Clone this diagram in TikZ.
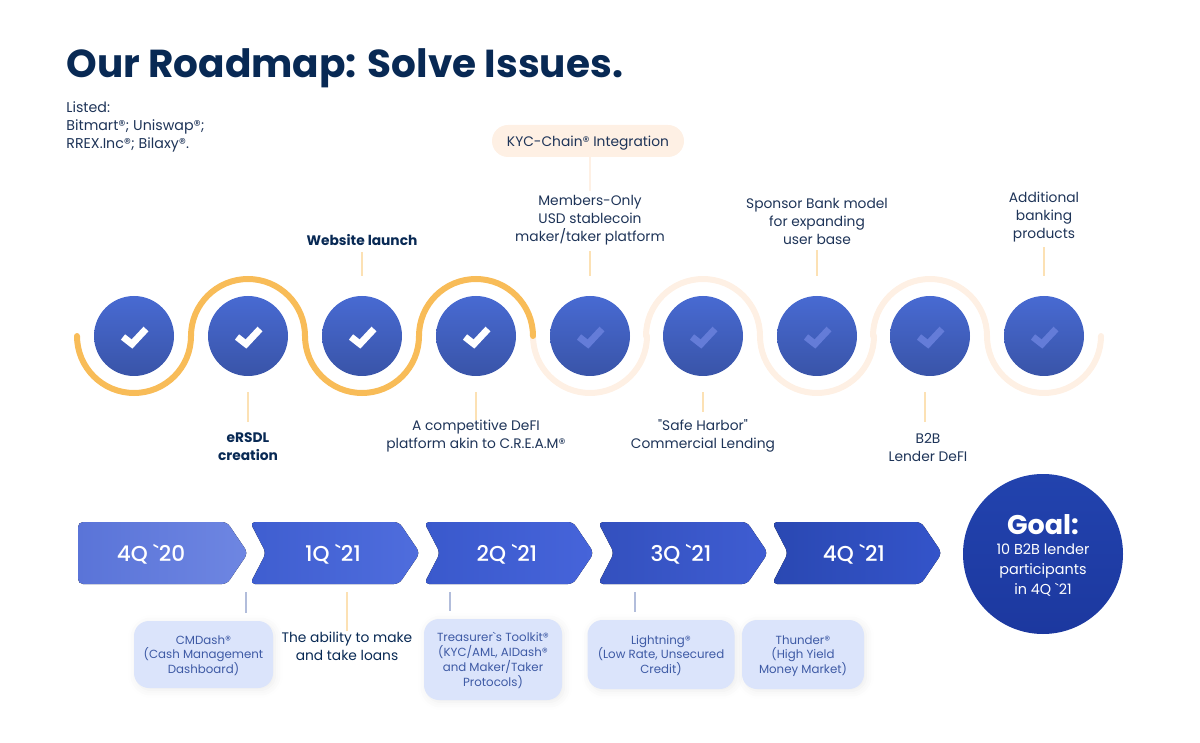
\documentclass[tikz,border=0pt]{standalone}
\usepackage{fontspec}
\setmainfont{Poppins}[Ligatures=TeXOff]
\newfontfamily\popmed{Poppins Medium}[Ligatures=TeXOff]
\usepackage{xcolor}
\usepackage{tikz}
\usetikzlibrary{calc, shadows.blur}
\definecolor{navy}{RGB}{8,41,84}
\definecolor{inktext}{RGB}{30,52,88}
\definecolor{amber}{RGB}{248,188,88}
\definecolor{peach}{RGB}{254,240,228}
\definecolor{boxblue}{RGB}{219,228,251}
\definecolor{boxtext}{RGB}{62,90,165}
\definecolor{discTop}{RGB}{72,106,210}
\definecolor{discBot}{RGB}{57,84,168}
\definecolor{dimcheck}{RGB}{100,124,216}
\definecolor{goalTop}{RGB}{34,67,174}
\definecolor{goalBot}{RGB}{28,56,159}

\begin{document}
\begin{tikzpicture}[
  x=0.5pt, y=0.5pt,
  font=\fontsize{6.9}{9}\selectfont,
  lab/.style={text=inktext, align=center, inner sep=0pt},
  boldlab/.style={lab, text=navy, font=\fontsize{6.9}{9}\selectfont\bfseries},
  listlab/.style={lab, align=left, anchor=north west, font=\fontsize{7.1}{9}\selectfont},
  disc/.style={circle, minimum size=40pt, inner sep=0pt, top color=discTop, bottom color=discBot},
  wave/.style={line width=3pt, line cap=round},
  check/.style={line width=3.4pt},
  upstem/.style={draw=amber!45, line width=0.7pt},
  lowstem/.style={draw=boxtext!40, line width=0.6pt},
  card/.style={rounded corners=7.5pt, fill=boxblue, text=boxtext, align=center, inner sep=0pt,
    font=\fontsize{5.9}{7.4}\selectfont, text depth=0pt,
    blur shadow={shadow xshift=1pt, shadow yshift=-1pt, shadow blur radius=4pt, shadow opacity=8}},
  qlab/.style={text=white, inner sep=0pt, font=\fontsize{10.8}{12}\popmed},
]
  \useasboundingbox (0,0) rectangle (1200,-743);

  % Title
  \node[text=navy, anchor=west, inner sep=0pt, font=\fontsize{19.5}{22}\selectfont\bfseries] (title) at (66,-68) {Our Roadmap: Solve Issues.};
  \node[listlab] (listed) at (66,-101) {Listed:\\Bitmart®; Uniswap®;\\RREX.Inc®; Bilaxy®.};

  % Wave behind the discs
  \foreach \x/\a in {590/360, 703/0, 817/360, 930/0, 1044/360}
    \draw[wave, peach] (\x-57,-336) arc[start angle=180, end angle=\a, radius=57];
  \foreach \x/\a in {134/360, 248/0, 362/360, 476/0}
    \draw[wave, amber] (\x-57,-336) arc[start angle=180, end angle=\a, radius=57];

  % Discs and checks
  \foreach \n/\x in {1/134, 2/248, 3/362, 4/476}{
    \node[disc] (c\n) at (\x,-336) {};
    \draw[check, draw=white, shift={(c\n.center)}] (-11,-1) -- (-2,-8) -- (12,7);
  }
  \foreach \n/\x in {5/590, 6/703, 7/817, 8/930, 9/1044}{
    \node[disc] (c\n) at (\x,-336) {};
    \draw[check, draw=dimcheck, shift={(c\n.center)}] (-11,-1) -- (-2,-8) -- (12,7);
  }

  % Labels over and under the discs
  \node[boldlab] (lab2) at (248,-447) {eRSDL\\creation};
  \node[boldlab] (lab3) at (362,-240) {Website launch};
  \node[lab] (lab4) at (476,-436) {A competitive DeFI\\platform akin to C.R.E.A.M®};
  \node[lab] (lab5) at (590,-220) {Members-Only\\USD stablecoin\\maker/taker platform};
  \node[lab] (lab6) at (703,-436) {"Safe Harbor"\\Commercial Lending};
  \node[lab] (lab7) at (817,-221) {Sponsor Bank model\\for expanding\\user base};
  \node[lab] (lab8) at (928,-447) {B2B\\Lender DeFI};
  \node[lab] (lab9) at (1044,-217) {Additional\\banking\\products};
  \node[lab, fill=peach, rounded corners=8pt, minimum width=96pt, minimum height=16pt, text depth=0pt] (kyc) at (588,-141) {KYC-Chain® Integration};

  % Stems
  \foreach \n/\x/\y in {3/362/252, 5/590/251, 7/817/250, 9/1044/247}{
    \coordinate (s\n) at (\x,-\y);
    \draw[upstem, shorten >=10pt] (s\n) -- (s\n |- c\n.north);
  }
  \foreach \n/\x/\y in {2/248/422, 4/476/420, 6/703/412, 8/925/422}{
    \coordinate (s\n) at (\x,-\y);
    \draw[upstem, shorten >=8pt] (s\n) -- (s\n |- c\n.south);
  }
  \draw[draw=peach, line width=1pt, shorten >=2pt] (kyc.south -| lab5) -- (lab5.north);

  % Quarter arrows
  \foreach \n/\x/\nt/\tx/\cl/\cr/\txt in {
    1/78/0/73/5A74D8/6E86E2/4Q `20,
    2/250/16/83/3F5ED0/4F6DDD/1Q `21,
    3/424/16/83/3A59CC/4664DA/2Q `21,
    4/598/16/83/3350BE/3F5DD2/3Q `21,
    5/772/16/82/2A48B2/3454CA/4Q `21}{
    \definecolor{cl}{HTML}{\cl}\definecolor{cr}{HTML}{\cr}
    \fill[rounded corners=2.5pt, left color=cl, right color=cr]
      (\x,-522) -- (\x+149,-522) -- (\x+170,-553) -- (\x+149,-584) -- (\x,-584) -- (\x+\nt,-553) -- cycle;
    \node[qlab] (q\n) at (\x+\tx,-554) {\txt};
  }

  % Goal
  \node[circle, minimum size=80pt, inner sep=0pt, top color=goalTop, bottom color=goalBot] (goal) at (1043,-554) {};
  \node[text=white, inner sep=0pt, font=\fontsize{13.5}{16}\selectfont\bfseries] (goalhead) at (1043,-525) {Goal:};
  \node[text=white, align=center, inner sep=0pt, font=\fontsize{7.2}{10}\selectfont] (goaltxt) at (1043,-570) {10 B2B lender\\participants\\in 4Q `21};

  % Cards under the arrows
  \node[card, minimum width=69.5pt, minimum height=33.5pt] (box1) at (203.5,-654.5) {CMDash®\\(Cash Management\\Dashboard)};
  \node[card, minimum width=69pt, minimum height=40.5pt] (box3) at (493,-659.5) {Treasurer`s Toolkit®\\(KYC/AML, AIDash®\\and Maker/Taker\\Protocols)};
  \node[card, minimum width=73.5pt, minimum height=34.5pt] (box4) at (661,-654.5) {Lightning®\\(Low Rate, Unsecured\\Credit)};
  \node[card, minimum width=61pt, minimum height=34.5pt] (box5) at (803,-654.5) {Thunder®\\(High Yield\\Money Market)};
  \node[lab, text=navy] (lab1q) at (347,-646) {The ability to make\\and take loans};

  \foreach \n/\x in {1/246, 3/450, 4/635}{
    \coordinate (t\n) at (\x,-592);
    \draw[lowstem, shorten >=4pt] (t\n) -- (t\n |- box\n.north);
  }
  \coordinate (t2) at (347,-592);
  \draw[upstem] (t2) -- (lab1q.north);
\end{tikzpicture}
\end{document}
